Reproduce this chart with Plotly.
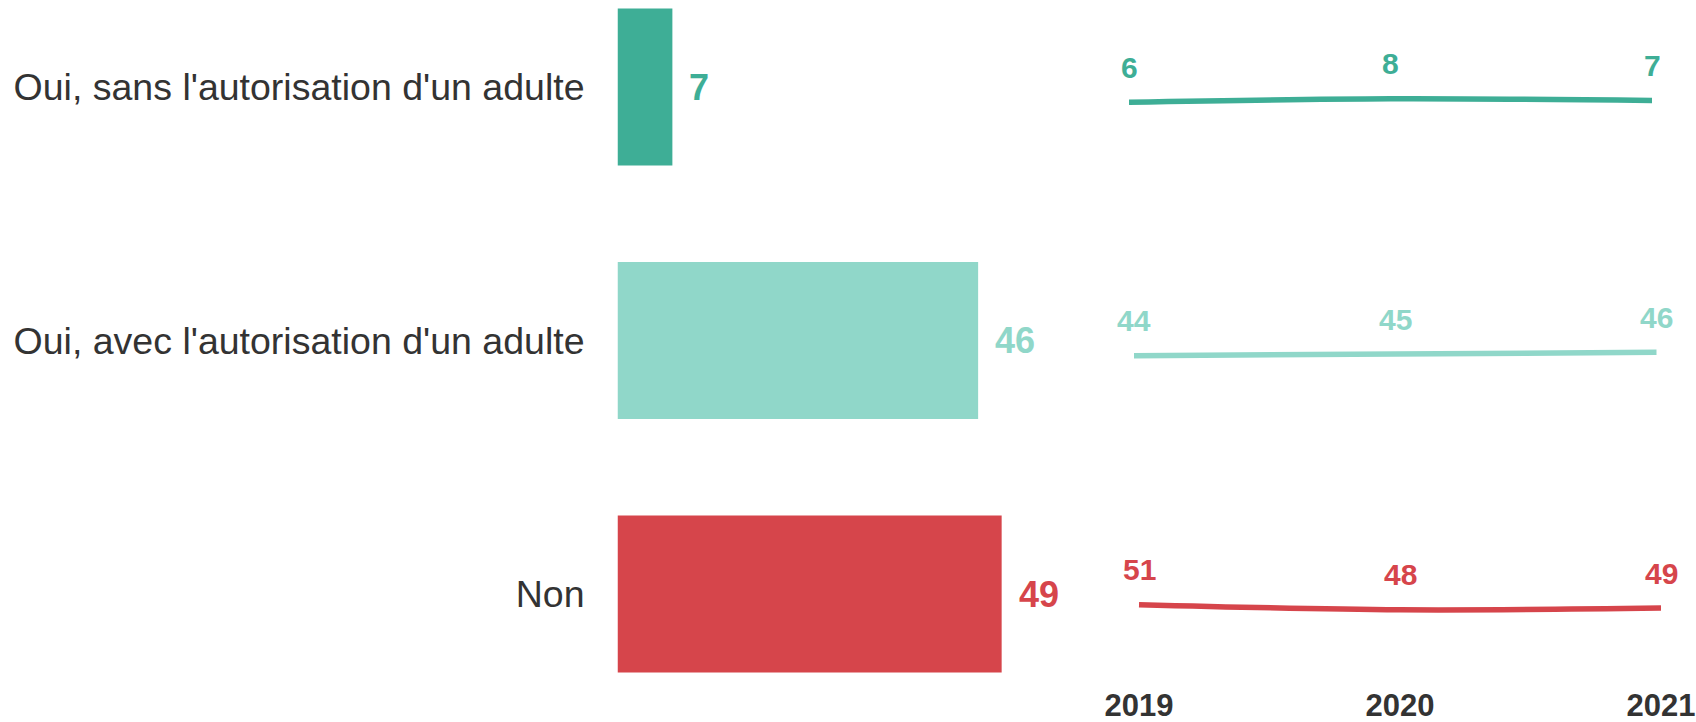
import plotly.graph_objects as go

# --- data -------------------------------------------------------------
categories = [
    "Oui, sans l'autorisation d'un adulte",
    "Oui, avec l'autorisation d'un adulte",
    "Non",
]
values_2021 = [7, 46, 49]
years = [2019, 2020, 2021]
trend_sans = [6, 8, 7]
trend_avec = [44, 45, 46]
trend_non = [51, 48, 49]
trends = [trend_sans, trend_avec, trend_non]
colors = ["#3EAE96", "#90D7C9", "#D6454B"]

# --- layout geometry (pixels) -----------------------------------------
W, H = 1696, 722
FONT = "Liberation Sans, Arial, Helvetica, sans-serif"
TEXT = "#333333"

bar_zero_px = 617.5
px_per_unit = 7.84
bar_right_px = 1080
row_pitch = 253.5
first_row_px = 87


def px_x(p):
    return p / W


def px_y(p):
    return 1 - p / H


fig = go.Figure()

# horizontal bars for the latest year
fig.add_trace(go.Bar(
    y=categories, x=values_2021, orientation="h",
    marker=dict(color=colors, line=dict(width=0)),
    xaxis="x", yaxis="y", hoverinfo="skip", showlegend=False,
))

annotations = []
for cat, v, c in zip(categories, values_2021, colors):
    annotations.append(dict(
        x=v, y=cat, xref="x", yref="y", text=f"<b>{v}</b>",
        showarrow=False, xanchor="left", yanchor="middle", xshift=15,
        font=dict(family=FONT, size=36, color=c),
    ))

layout_axes = {}
n_units = H / row_pitch
top_val = -first_row_px / row_pitch
layout_axes["xaxis"] = dict(
    domain=[px_x(bar_zero_px), px_x(bar_right_px)],
    range=[0, (bar_right_px - bar_zero_px) / px_per_unit],
    visible=False, fixedrange=True,
)
layout_axes["yaxis"] = dict(
    domain=[0, 1], anchor="x", type="category",
    categoryorder="array", categoryarray=categories,
    range=[top_val + n_units, top_val],
    showgrid=False, zeroline=False, showline=False, ticks="",
    ticklabelstandoff=32, automargin=False,
    tickfont=dict(family=FONT, size=37.5, color=TEXT),
)

# small trend lines, one mini-panel per answer
y_scale = 1.7  # px per percentage point
for i, (series, c) in enumerate(zip(trends, colors)):
    k = i + 2
    row_px = first_row_px + row_pitch * i + 13.5
    x0 = 1129 + 5 * i
    x1 = 1652 + 4.5 * i
    ppy = (x1 - x0) / (years[-1] - years[0])
    pad = 0.1
    mean = sum(series) / len(series)
    half = 100 / y_scale
    last = i == len(trends) - 1
    xa = dict(
        domain=[px_x(x0 - pad * ppy), px_x(x1 + pad * ppy)],
        range=[years[0] - pad, years[-1] + pad],
        showgrid=False, zeroline=False, showline=False, ticks="",
        fixedrange=True, automargin=False,
    )
    if last:
        xa.update(
            anchor="free", position=px_y(684), showticklabels=True,
            tickmode="array", tickvals=years, ticktext=[str(y) for y in years],
            tickfont=dict(family=FONT, size=31, color=TEXT, weight="bold"),
        )
    else:
        xa.update(anchor=f"y{k}", showticklabels=False)
    layout_axes[f"xaxis{k}"] = xa
    layout_axes[f"yaxis{k}"] = dict(
        domain=[px_y(row_px + 100), px_y(row_px - 100)],
        range=[mean - half, mean + half], anchor=f"x{k}",
        visible=False, fixedrange=True,
    )
    fig.add_trace(go.Scatter(
        x=years, y=series, mode="lines", xaxis=f"x{k}", yaxis=f"y{k}",
        line=dict(color=c, width=5.5, shape="spline"),
        hoverinfo="skip", showlegend=False,
    ))
    for yr, v in zip(years, series):
        annotations.append(dict(
            x=yr, y=v, xref=f"x{k}", yref=f"y{k}", text=f"<b>{v}</b>",
            showarrow=False, xanchor="center", yanchor="middle", yshift=35,
            font=dict(family=FONT, size=30, color=c),
        ))

fig.update_layout(
    width=W, height=H,
    margin=dict(l=0, r=0, t=0, b=0),
    paper_bgcolor="white", plot_bgcolor="white",
    bargap=0.38, showlegend=False,
    annotations=annotations,
    font=dict(family=FONT, color=TEXT),
    **layout_axes,
)

fig.write_html("out.html", config={"displayModeBar": False})
